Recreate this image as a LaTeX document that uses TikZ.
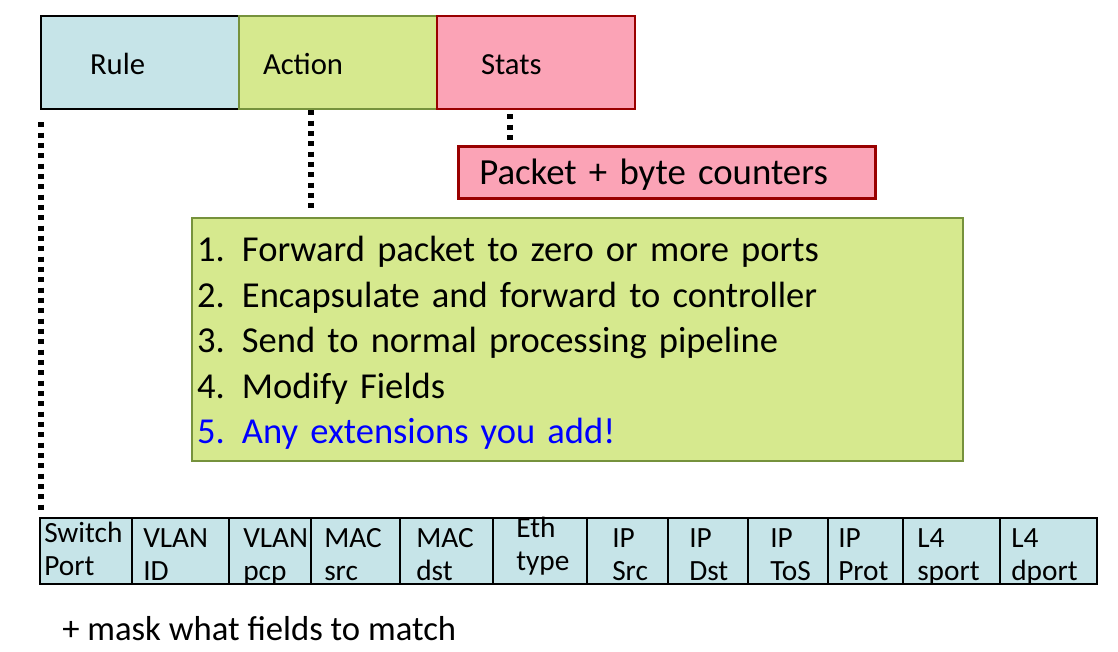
\documentclass[tikz,border=0pt]{standalone}
\usepackage{fontspec}
\setmainfont{Carlito}
\usepackage{xcolor}
\usepackage{tikz}
\usetikzlibrary{positioning}
\definecolor{rblue}{HTML}{C6E4E8}
\definecolor{agreen}{HTML}{D6E98E}
\definecolor{aedge}{HTML}{76923C}
\definecolor{spink}{HTML}{FBA3B6}
\definecolor{sedge}{HTML}{990000}
\newcommand{\lnum}[1]{\makebox[33.75pt][l]{#1}}

\begin{document}
\begin{tikzpicture}[x=0.75pt, y=-0.75pt,
  hdr/.style={draw, line width=1.5pt, anchor=north west, minimum width=148.5pt, minimum height=69.75pt, text height=18.75pt, text depth=0pt, align=left, outer sep=0pt, font=\fontsize{23}{27}\selectfont},
  fld/.style={draw, line width=1.9pt, fill=rblue, minimum height=49.5pt, inner sep=0pt, outer sep=0pt},
  ftxt/.style={anchor=north west, inner sep=0pt, align=left, font=\fontsize{22}{24.75}\selectfont},
  dots/.style={line width=4pt, dash pattern=on 3.75pt off 4pt}]
\useasboundingbox (0,0) rectangle (1118,652);
% flow table entry
\node[hdr, fill=rblue, inner xsep=36.75pt, text width=75pt] (rule) at (41,16) {Rule};
\node[hdr, right=0pt of rule, fill=agreen, draw=aedge, inner xsep=18pt, text width=112.5pt] (act) {Action};
\node[hdr, right=0pt of act, fill=spink, draw=sedge, inner xsep=33pt, text width=82.5pt] (st) {Stats};
% stats and actions
\node[draw=sedge, fill=spink, line width=1.9pt, anchor=north west, minimum width=312.75pt, minimum height=39pt, inner xsep=15.75pt, text width=281.25pt, text height=18pt, text depth=0pt, align=left, font=\fontsize{27.6}{32}\selectfont] (pk) at (457,145) {Packet + byte counters};
\node[draw=aedge, fill=agreen, line width=1.5pt, anchor=north west, minimum width=578.25pt, minimum height=182.25pt, inner xsep=3.75pt, inner ysep=0pt, text width=570.75pt, text height=30pt, text depth=146.25pt, align=left, font=\fontsize{27.4}{34.125}\selectfont] (lst) at (191,217)
  {\lnum{1.}Forward packet to zero or more ports\\
   \lnum{2.}Encapsulate and forward to controller\\
   \lnum{3.}Send to normal processing pipeline\\
   \lnum{4.}Modify Fields\\
   \textcolor{blue}{\lnum{5.}Any extensions you add!}};
% header fields
\node[fld, minimum width=69pt, anchor=north west] (sw) at (40,518) {};
\node[fld, minimum width=72.75pt, right=0pt of sw] (vid) {};
\node[fld, minimum width=61.5pt, right=0pt of vid] (vpcp) {};
\node[fld, minimum width=66.75pt, right=0pt of vpcp] (msrc) {};
\node[fld, minimum width=69.75pt, right=0pt of msrc] (mdst) {};
\node[fld, minimum width=70.5pt, right=0pt of mdst] (eth) {};
\node[fld, minimum width=60.75pt, right=0pt of eth] (isrc) {};
\node[fld, minimum width=60pt, right=0pt of isrc] (idst) {};
\node[fld, minimum width=60pt, right=0pt of idst] (itos) {};
\node[fld, minimum width=56.25pt, right=0pt of itos] (iprot) {};
\node[fld, minimum width=72.75pt, right=0pt of iprot] (lsp) {};
\node[fld, minimum width=72.75pt, right=0pt of lsp] (ldp) {};
\node[ftxt] (swt) at (44,519) {\strut Switch\\Port};
\node[ftxt] (vidt) at (143,524) {\strut VLAN\\ID};
\node[ftxt] (vpcpt) at (243,524) {\strut VLAN\\pcp};
\node[ftxt] (msrct) at (324,524) {\strut MAC\\src};
\node[ftxt] (mdstt) at (416,524) {\strut MAC\\dst};
\node[ftxt] (etht) at (516,514) {\strut Eth\\type};
\node[ftxt] (isrct) at (612,524) {\strut IP\\Src};
\node[ftxt] (idstt) at (689,524) {\strut IP\\Dst};
\node[ftxt] (itost) at (770,524) {\strut IP\\ToS};
\node[ftxt] (iprott) at (838,524) {\strut IP\\Prot};
\node[ftxt] (lspt) at (917,524) {\strut L4\\sport};
\node[ftxt] (ldpt) at (1011,524) {\strut L4\\dport};
\node[anchor=base west, inner sep=0pt, font=\fontsize{26}{30}\selectfont] (msk) at (62,640) {+ mask what fields to match};
% dotted links
\draw[dots, shorten <=10pt, shorten >=6pt] (rule.south west) -- (rule.south west |- sw.north);
\draw[dots, shorten <=1pt, shorten >=5pt] ([xshift=-20.25pt]act.south) -- ([xshift=-20.25pt]act.south |- lst.north);
\draw[dots, shorten <=4pt, shorten >=2pt] ([xshift=-19.5pt]st.south) -- ([xshift=-19.5pt]st.south |- pk.north);
\end{tikzpicture}
\end{document}
